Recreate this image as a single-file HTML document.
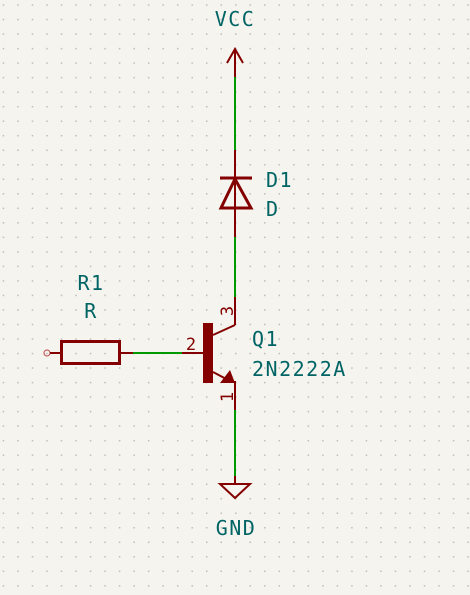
<!DOCTYPE html>
<html><head><meta charset="utf-8"><style>
html,body{margin:0;padding:0;background:#f5f4ef;}
svg{display:block}
text{font-family:"DejaVu Sans Mono","Liberation Mono",monospace;fill:#006464;font-size:20px;letter-spacing:1.5px;}
</style></head><body>
<svg width="470" height="595" viewBox="0 0 470 595">
<defs>
<pattern id="g" x="2.7" y="4.3" width="14.52" height="14.52" patternUnits="userSpaceOnUse">
<rect x="0" y="0" width="1.5" height="1.5" fill="#bdbdb8"/>
</pattern>
</defs>
<rect width="470" height="595" fill="#f5f4ef"/>
<rect width="470" height="595" fill="url(#g)"/>

<g>
<text x="235" y="26" text-anchor="middle">VCC</text>
<polyline points="227,63 235,49 243,63" fill="none" stroke="#840000" stroke-width="2"/>
<line x1="235" y1="49" x2="235" y2="77" stroke="#840000" stroke-width="2"/>
</g>
<line x1="235" y1="77" x2="235" y2="150" stroke="#009a00" stroke-width="2"/>

<g>
<line x1="235" y1="150" x2="235" y2="237" stroke="#840000" stroke-width="2"/>
<line x1="220" y1="178" x2="252" y2="178" stroke="#840000" stroke-width="3"/>
<polygon points="235,179 221,208 251,208" fill="none" stroke="#840000" stroke-width="3"/>
<text x="266" y="187">D1</text>
<text x="266" y="216">D</text>
</g>
<line x1="235" y1="237" x2="235" y2="297" stroke="#009a00" stroke-width="2"/>

<g>
<line x1="235" y1="297" x2="235" y2="325" stroke="#840000" stroke-width="2"/>
<line x1="235" y1="325" x2="213" y2="335" stroke="#840000" stroke-width="2"/>
<rect x="203" y="323" width="10" height="60" fill="#840000"/>
<line x1="182" y1="353" x2="203" y2="353" stroke="#840000" stroke-width="2"/>
<line x1="213" y1="372" x2="230" y2="381" stroke="#840000" stroke-width="2"/>
<polygon points="235,383 220,383 230,370" fill="#840000"/>
<line x1="235" y1="381" x2="235" y2="410" stroke="#840000" stroke-width="2"/>
<text x="0" y="0" transform="translate(233,311) rotate(-90)" text-anchor="middle" style="fill:#840000;font-size:17px;letter-spacing:0">3</text>
<text x="191" y="350" text-anchor="middle" style="fill:#840000;font-size:17px;letter-spacing:0">2</text>
<text x="0" y="0" transform="translate(233,397) rotate(-90)" text-anchor="middle" style="fill:#840000;font-size:17px;letter-spacing:0">1</text>
<text x="252" y="346">Q1</text>
<text x="252" y="376">2N2222A</text>
</g>

<line x1="133" y1="353" x2="182" y2="353" stroke="#009a00" stroke-width="2"/>

<g>
<circle cx="47" cy="353" r="3" fill="none" stroke="#c06060" stroke-width="1.2"/>
<line x1="50" y1="353" x2="61" y2="353" stroke="#840000" stroke-width="2"/>
<rect x="61.5" y="341.5" width="58" height="22" fill="none" stroke="#840000" stroke-width="3"/>
<line x1="120" y1="353" x2="133" y2="353" stroke="#840000" stroke-width="2"/>
<text x="91" y="290" text-anchor="middle">R1</text>
<text x="91" y="318" text-anchor="middle">R</text>
</g>

<line x1="235" y1="410" x2="235" y2="476" stroke="#009a00" stroke-width="2"/>

<g>
<line x1="235" y1="476" x2="235" y2="484" stroke="#840000" stroke-width="2"/>
<polygon points="220,484 250,484 235,498" fill="none" stroke="#840000" stroke-width="2"/>
<text x="236" y="535" text-anchor="middle">GND</text>
</g>
</svg>
</body></html>
